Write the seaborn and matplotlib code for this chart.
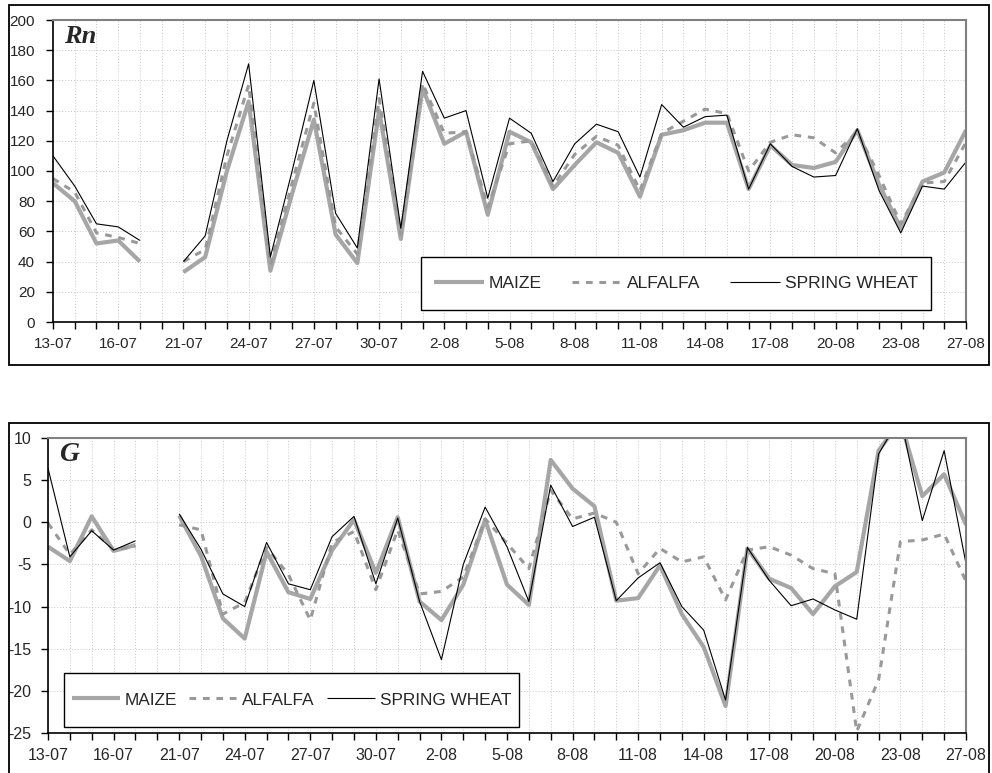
import numpy as np
import pandas as pd
import matplotlib
matplotlib.use("Agg")
import matplotlib.pyplot as plt
import seaborn as sns
from matplotlib.patches import Rectangle
from matplotlib.lines import Line2D

nan = np.nan

# ---- data -------------------------------------------------------------
dates = ["13-07", "14-07", "15-07", "16-07", "17-07", "18-07",
         "21-07", "22-07", "23-07", "24-07", "25-07", "26-07", "27-07",
         "28-07", "29-07", "30-07", "31-07", "1-08", "2-08", "3-08",
         "4-08", "5-08", "6-08", "7-08", "8-08", "9-08", "10-08",
         "11-08", "12-08", "13-08", "14-08", "15-08", "16-08", "17-08",
         "18-08", "19-08", "20-08", "21-08", "22-08", "23-08", "25-08",
         "26-08", "27-08"]
tick_labels = dates[::3]

series_names = ["MAIZE", "ALFALFA", "SPRING WHEAT"]

rn_maize = [92, 80, 52, 54, 40, nan, 33, 43, 100, 146, 34, 85, 134, 58, 39,
            140, 55, 155, 118, 126, 71, 126, 119, 88, 104, 119, 112, 83, 124,
            127, 132, 132, 88, 117, 104, 102, 106, 127, 91, 62, 93, 99, 127]
rn_alfalfa = [95, 86, 59, 56, 52, nan, 40, 48, 110, 157, 38, 92, 145, 63, 45,
              148, 58, 158, 125, 126, 76, 118, 120, 90, 111, 123, 117, 87, 125,
              133, 141, 138, 100, 119, 124, 122, 112, 126, 97, 65, 92, 93, 119]
rn_wheat = [110, 90, 65, 63, 54, nan, 40, 57, 120, 171, 43, 100, 160, 72, 49,
            161, 62, 166, 135, 140, 82, 135, 125, 93, 118, 131, 126, 96, 144,
            129, 136, 137, 88, 118, 103, 96, 97, 128, 87, 59, 90, 88, 106]

g_maize = [-2.9, -4.6, 0.7, -3.4, -2.7, nan, 0.8, -4.0, -11.4, -13.8, -3.5,
           -8.3, -9.1, -3.3, 0.3, -6.0, 0.6, -9.4, -11.6, -7.4, 0.3, -7.4,
           -9.8, 7.4, 4.0, 1.9, -9.3, -9.0, -5.1, -10.9, -14.8, -21.8, -3.1,
           -6.7, -7.8, -10.9, -7.6, -5.9, 8.5, 12.0, 3.1, 5.7, -0.3]
g_alfalfa = [-0.1, -3.8, -0.9, -3.2, -2.9, nan, -0.3, -0.9, -10.9, -9.5, -3.0,
             -6.2, -11.6, -2.4, -1.1, -8.0, -0.9, -8.5, -8.2, -6.5, 0.4, -2.5,
             -5.5, 3.8, 0.4, 1.1, 0.0, -6.1, -3.1, -4.7, -4.1, -9.2, -3.3,
             -2.9, -3.9, -5.5, -6.1, -24.8, -18.7, -2.3, -2.1, -1.4, -7.0]
g_wheat = [6.4, -4.1, -1.0, -3.3, -2.2, nan, 1.0, -3.2, -8.5, -10.0, -2.4,
           -7.3, -8.0, -1.7, 0.7, -7.3, 0.5, -9.4, -16.3, -5.0, 1.8, -2.9,
           -9.4, 4.4, -0.5, 0.6, -9.3, -6.6, -4.8, -10.0, -12.8, -21.1, -3.0,
           -6.9, -9.9, -9.1, -10.4, -11.5, 8.1, 12.5, 0.2, 8.5, -4.9]

# ---- styles -----------------------------------------------------------
styles = {
    "MAIZE": dict(color="#a6a6a6", lw=3.0, ls="-"),
    "ALFALFA": dict(color="#999999", lw=2.2, ls=(0, (2.2, 2.2))),
    "SPRING WHEAT": dict(color="#000000", lw=0.8, ls="-"),
}


def long_df(values_list):
    frames = []
    for name, vals in zip(series_names, values_list):
        v = np.asarray(vals, dtype=float)
        seg = np.cumsum(np.isnan(v))
        frames.append(pd.DataFrame({"idx": np.arange(len(v)), "value": v,
                                    "series": name, "seg": seg}))
    df = pd.concat(frames, ignore_index=True)
    return df.dropna()


sns.set_theme(style="white")
plt.rcParams["font.family"] = ["Liberation Sans", "DejaVu Sans"]

W, H = 992, 773
fig = plt.figure(figsize=(W / 100, H / 100), dpi=100)


def px_axes(l, t, r, b):
    return fig.add_axes([l / W, 1 - b / H, (r - l) / W, (b - t) / H])


def style_axes(ax, ylim, yticks, tick_fs, ypad, xpad):
    ax.set_xlim(0, len(dates) - 1)
    ax.set_ylim(*ylim)
    ax.set_yticks(yticks)
    ax.set_yticklabels([f"{t:g}" for t in yticks])
    ax.set_xticks(range(len(dates)))
    ax.set_xticklabels([d if i % 3 == 0 else "" for i, d in enumerate(dates)])
    ax.set_xlabel("")
    ax.set_ylabel("")
    ax.grid(True, color="#c8c8c8", linestyle=(0, (1, 2)), linewidth=0.7)
    ax.set_axisbelow(True)
    for s in ["left", "bottom"]:
        ax.spines[s].set_color("black")
        ax.spines[s].set_linewidth(1.2)
    for s in ["top", "right"]:
        ax.spines[s].set_color("#808080")
        ax.spines[s].set_linewidth(1.5)
    ax.tick_params(axis="x", direction="out", length=5, width=1.0,
                   color="black", labelsize=tick_fs, pad=xpad, bottom=True)
    ax.tick_params(axis="y", direction="out", length=5, width=1.0,
                   color="black", labelsize=tick_fs, pad=ypad, left=True)


def draw_series(ax, df):
    for name in series_names:
        sub = df[df["series"] == name]
        st = styles[name]
        sns.lineplot(data=sub, x="idx", y="value", units="seg",
                     estimator=None, ax=ax, color=st["color"],
                     linewidth=st["lw"], linestyle=st["ls"], legend=False,
                     solid_capstyle="butt", dash_capstyle="butt")


def legend_box(l, t, r, b, fs, hl, colsp):
    fig.patches.append(Rectangle((l / W, 1 - b / H), (r - l) / W, (b - t) / H,
                                 transform=fig.transFigure, fill=True,
                                 facecolor="white", edgecolor="black",
                                 linewidth=1.0, zorder=5))
    handles = [Line2D([], [], color=styles[n]["color"], lw=styles[n]["lw"],
                      ls=styles[n]["ls"], solid_capstyle="butt",
                      dash_capstyle="butt") for n in series_names]
    leg = fig.legend(handles, series_names, loc="center",
                     bbox_to_anchor=((l + r) / 2 / W, 1 - (t + b) / 2 / H),
                     bbox_transform=fig.transFigure, ncol=3, frameon=False,
                     fontsize=fs, handlelength=hl, handletextpad=0.28,
                     columnspacing=colsp)
    leg.set_zorder(6)


# outer chart frames
fig.patches.append(Rectangle((9 / W, 1 - 365 / H), 980 / W, 360 / H,
                             transform=fig.transFigure, fill=False,
                             edgecolor="black", linewidth=1.3))
fig.patches.append(Rectangle((9 / W, 1 - 790 / H), 980 / W, 367 / H,
                             transform=fig.transFigure, fill=False,
                             edgecolor="black", linewidth=1.3))

# ---- top panel: Rn ----------------------------------------------------
ax1 = px_axes(53, 20, 966, 322)
draw_series(ax1, long_df([rn_maize, rn_alfalfa, rn_wheat]))
style_axes(ax1, (0, 200), list(range(0, 201, 20)), 11, 8, 6)
ax1.text(0.012, 0.985, "Rn", transform=ax1.transAxes, ha="left", va="top",
         fontsize=19, fontweight="bold", fontstyle="italic",
         family=["Liberation Serif", "DejaVu Serif"])
legend_box(421, 257, 931, 310, 12.6, 2.85, 1.7)

# ---- bottom panel: G --------------------------------------------------
ax2 = px_axes(48, 438, 966, 733)
draw_series(ax2, long_df([g_maize, g_alfalfa, g_wheat]))
style_axes(ax2, (-25, 10), list(range(-25, 11, 5)), 11.5, 7, 6)
ax2.text(0.012, 0.985, "G", transform=ax2.transAxes, ha="left", va="top",
         fontsize=20, fontweight="bold", fontstyle="italic",
         family=["Liberation Serif", "DejaVu Serif"])
legend_box(64, 673, 519, 727, 12.4, 2.8, 0.7)

fig.savefig("out.png", dpi=100)
